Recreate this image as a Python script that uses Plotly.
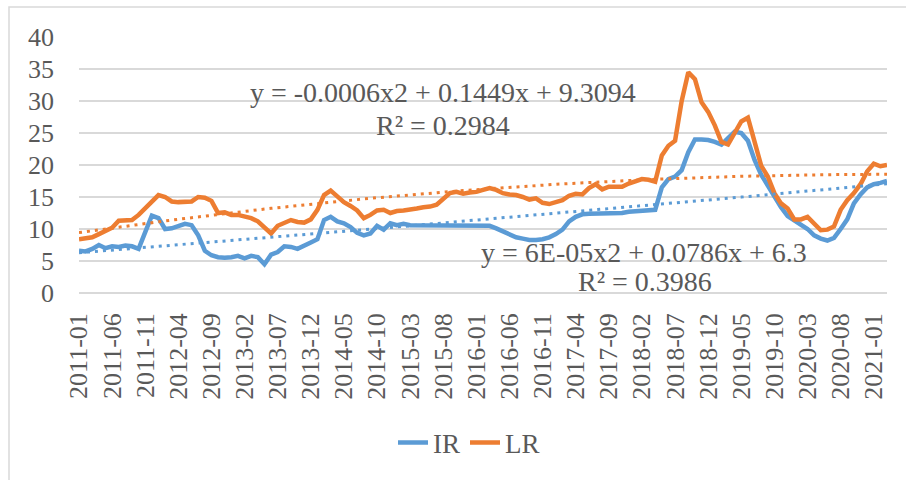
import numpy as np
import plotly.graph_objects as go

# Monthly categories 2011-01 .. 2021-03
months = [f"{y}-{m:02d}" for y in range(2011, 2022) for m in range(1, 13)][:123]
tick_labels = months[::5]

IR = [6.6, 6.5, 6.9, 7.5, 7.0, 7.3, 7.2, 7.4, 7.3, 6.9,
      9.5, 12.1, 11.7, 10.0, 10.1, 10.5, 10.8, 10.6, 9.0, 6.6,
      5.9, 5.6, 5.5, 5.6, 5.8, 5.4, 5.8, 5.6, 4.5, 6.0,
      6.4, 7.3, 7.2, 6.9, 7.5, 7.9, 8.4, 11.4, 11.9, 11.2,
      10.9, 10.3, 9.4, 9.0, 9.3, 10.5, 9.9, 10.9, 10.6, 10.8,
      10.6, 10.6, 10.6, 10.6, 10.6, 10.6, 10.6, 10.6, 10.6, 10.6,
      10.6, 10.6, 10.5, 10.1, 9.6, 9.1, 8.7, 8.5, 8.3, 8.3,
      8.4, 8.7, 9.2, 9.9, 11.2, 11.9, 12.3, 12.4, 12.4, 12.4,
      12.4, 12.4, 12.5, 12.7, 12.8, 12.8, 12.9, 13.0, 16.5, 17.8,
      18.2, 19.2, 22.0, 24.0, 24.0, 23.9, 23.6, 23.2, 24.2, 25.2,
      25.0, 23.8, 20.8, 18.5, 16.8, 15.0, 13.4, 12.0, 11.3, 10.8,
      10.0, 9.0, 8.5, 8.2, 8.6, 10.0, 11.5, 14.0, 15.4, 16.5,
      17.0, 17.2, 17.5]

LR = [8.4, 8.5, 8.7, 9.2, 9.8, 10.2, 11.3, 11.4, 11.4, 12.2,
      13.2, 14.3, 15.3, 15.0, 14.3, 14.2, 14.2, 14.3, 15.0, 14.9,
      14.4, 12.5, 12.6, 12.2, 12.2, 12.0, 11.7, 11.2, 10.2, 9.3,
      10.5, 11.0, 11.4, 11.1, 11.0, 11.5, 13.0, 15.3, 16.0, 15.1,
      14.2, 13.6, 12.9, 11.7, 12.2, 12.9, 13.0, 12.5, 12.8, 12.9,
      13.0, 13.2, 13.4, 13.5, 13.8, 14.8, 15.6, 15.8, 15.5, 15.7,
      15.8, 16.1, 16.4, 16.1, 15.6, 15.4, 15.3, 15.0, 14.6, 14.8,
      14.1, 13.9, 14.2, 14.5, 15.2, 15.5, 15.4, 16.4, 17.0, 16.2,
      16.6, 16.6, 16.6, 17.1, 17.4, 17.8, 17.7, 17.4, 21.5, 23.0,
      23.8, 30.0, 34.5, 33.4, 29.8, 28.3, 26.2, 23.6, 23.2, 25.0,
      26.8, 27.4, 23.5, 19.9, 18.2, 15.6, 14.0, 13.2, 11.5, 11.5,
      11.9, 10.9, 9.8, 9.9, 10.4, 13.0, 14.5, 15.6, 17.0, 19.0,
      20.2, 19.8, 20.0]

eq_IR = ["y = 6E-05x2 + 0.0786x + 6.3", "R² = 0.3986"]
eq_LR = ["y = -0.0006x2 + 0.1449x + 9.3094", "R² = 0.2984"]

BLUE = "#5B9BD5"
ORANGE = "#ED7D31"
TXT = "#595959"
GRID = "#D9D9D9"
FONT = "'Liberation Serif', 'Times New Roman', 'DejaVu Serif', serif"

W, H = 906, 480
L, R, T, B = 79, 19, 37, 187
PW, PH = W - L - R, H - T - B


def px(xp):
    return (xp - L) / PW


def py(yp):
    return (H - B - yp) / PH


# polynomial (order 2) trendlines computed from the data, Excel-style x = 1..n
xn = np.arange(1, len(months) + 1)
trend_IR = np.polyval(np.polyfit(xn, IR, 2), xn)
trend_LR = np.polyval(np.polyfit(xn, LR, 2), xn)

fig = go.Figure()
fig.add_trace(go.Scatter(x=months, y=IR, mode="lines", name="IR",
                         line=dict(color=BLUE, width=4.5)))
fig.add_trace(go.Scatter(x=months, y=LR, mode="lines", name="LR",
                         line=dict(color=ORANGE, width=4.5)))
fig.add_trace(go.Scatter(x=months, y=trend_IR, mode="lines", showlegend=False,
                         line=dict(color=BLUE, width=3, dash="3px,5px")))
fig.add_trace(go.Scatter(x=months, y=trend_LR, mode="lines", showlegend=False,
                         line=dict(color=ORANGE, width=3, dash="3px,5px")))

anns = []
for text, (cx, cy) in zip(eq_LR, [(443, 92), (443, 125)]):
    anns.append(dict(text=text, x=px(cx), y=py(cy), xref="paper", yref="paper",
                     xanchor="center", yanchor="middle", showarrow=False,
                     font=dict(family=FONT, size=28, color=TXT)))
for text, (cx, cy) in zip(eq_IR, [(644, 252), (645, 281)]):
    anns.append(dict(text=text, x=px(cx), y=py(cy), xref="paper", yref="paper",
                     xanchor="center", yanchor="middle", showarrow=False,
                     font=dict(family=FONT, size=28, color=TXT)))

fig.update_layout(
    template="none",
    width=W, height=H,
    margin=dict(l=L, r=R, t=T, b=B, autoexpand=False),
    paper_bgcolor="white", plot_bgcolor="white",
    font=dict(family=FONT, color=TXT, size=26),
    annotations=anns,
    showlegend=True,
    legend=dict(orientation="h", x=px(469), y=py(443), xanchor="center",
                yanchor="middle", font=dict(family=FONT, size=27, color=TXT),
                bgcolor="rgba(0,0,0,0)"),
    shapes=[dict(type="rect", xref="paper", yref="paper",
                 x0=px(9), x1=px(1200), y0=py(700), y1=py(7),
                 line=dict(color=GRID, width=1.5), layer="below")],
)
fig.update_xaxes(type="category", range=[0, len(months) - 1],
                 tickmode="array", tickvals=tick_labels, ticktext=tick_labels,
                 tickangle=-90, showgrid=False, zeroline=False, showline=False,
                 ticks="", ticklabelstandoff=14, automargin=False,
                 tickfont=dict(family=FONT, size=26, color=TXT))
fig.update_yaxes(range=[0, 40], dtick=5, tick0=0, showgrid=True, gridcolor=GRID,
                 gridwidth=2, zeroline=True, zerolinecolor=GRID, zerolinewidth=2,
                 showline=False, ticks="", ticklabelstandoff=24, automargin=False,
                 tickfont=dict(family=FONT, size=26, color=TXT))

fig.write_html("out.html", config={"displayModeBar": False},
               post_script="document.body.style.margin='0';document.body.style.overflow='hidden';")
